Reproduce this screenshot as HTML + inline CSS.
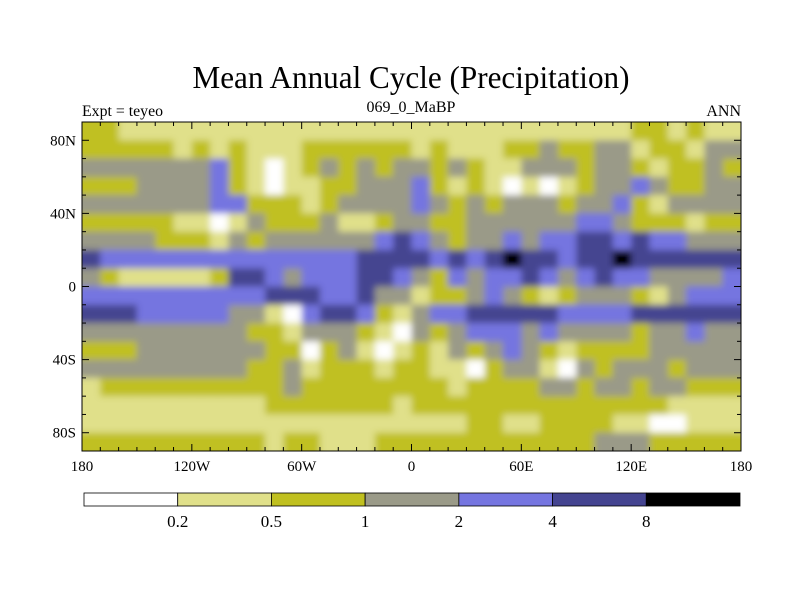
<!DOCTYPE html>
<html><head><meta charset="utf-8"><style>
html,body{margin:0;padding:0;background:#fff;width:800px;height:600px;overflow:hidden}
text{font-family:"Liberation Serif",serif;fill:#000}
</style></head><body>
<svg id="chart" width="800" height="600" viewBox="0 0 800 600" xmlns="http://www.w3.org/2000/svg">
<defs>
<clipPath id="plotclip"><rect x="82" y="122" width="659" height="329"/></clipPath>
<filter id="soft" x="-5%" y="-5%" width="110%" height="110%"><feGaussianBlur stdDeviation="3.5"/></filter>
</defs>
<text x="411" y="88" font-size="32" text-anchor="middle" textLength="437" lengthAdjust="spacingAndGlyphs">Mean Annual Cycle (Precipitation)</text>
<text x="82" y="116" font-size="16" textLength="81" lengthAdjust="spacingAndGlyphs">Expt = teyeo</text>
<text x="411" y="112" font-size="16" text-anchor="middle">069_0_MaBP</text>
<text x="741" y="116" font-size="16" text-anchor="end">ANN</text>
<g id="cells" clip-path="url(#plotclip)"><g id="cellsInner" filter="url(#soft)"></g></g>
<rect x="82" y="122" width="659" height="329" fill="none" stroke="#000" stroke-width="1"/>
<g id="ticks"></g>
<g id="colorbar"></g>
</svg>
<script>
// ---- data ----
const classColors = ["#ffffff","#e0e08a","#c0c020","#9a9a88","#7575e0","#444490","#000000"];
const levelLabels = ["0.2","0.5","1","2","4","8"];
const latTickValues = [80,40,0,-40,-80];
const latTickLabels = ["80N","40N","0","40S","80S"];
const lonTickValues = [-180,-120,-60,0,60,120,180];
const lonTickLabels = ["180","120W","60W","0","60E","120E","180"];
const westRows = [
"221111111111111111","222221212111222222","333333342101232323","222333342101122333",
"333333344222123333","222221101322231123","333322213233333345","544444444444444555",
"321111125543444554","444444444455544533","555444443310455421","333333333221333210",
"222333333322023101","333333333223122212","122222222223222222","111111111122222221",
"111111111111111111","222222222212211122"];
const eastRows = [
"111111111111221211","121112232233122133","323211333233212232","421210101233432233",
"432323332334213333","322333333443222122","432334344554544333","545456554556555555",
"324344543454433334","122343212333213444","344555554444555555","323444343333233433",
"213234321222233333","211023310323332333","221222233233233222","222222222222221111",
"111221122221100111","222222222233322222"];
// ---- axes ----
const X0=82,X1=741,Y0=122,Y1=451;
const xOf = lon => X0 + (lon+180)/360*(X1-X0);
const yOf = lat => Y0 + (90-lat)/180*(Y1-Y0);
const NS="http://www.w3.org/2000/svg";
const inner=document.getElementById('cellsInner');
for(let r=0;r<18;r++){
  const row=westRows[r]+eastRows[r];
  const latTop=90-r*10;
  for(let c=0;c<36;c++){
    const lon=-180+c*10;
    let x=xOf(lon), y=yOf(latTop), w=xOf(lon+10)-x, h=yOf(latTop-10)-y;
    // extend edge cells so blur doesn't fade at frame
    if(c===0){x-=10;w+=10;} if(c===35){w+=10;} if(r===0){y-=10;h+=10;} if(r===17){h+=10;}
    const rc=document.createElementNS(NS,'rect');
    
    
    rc.setAttribute('x',x);rc.setAttribute('y',y);
    rc.setAttribute('width',w+0.6);rc.setAttribute('height',h+0.6);
    rc.setAttribute('fill',classColors[+row[c]]);
    inner.appendChild(rc);
  }
}
const tk=document.getElementById('ticks');
function line(x1,y1,x2,y2,name){
  const l=document.createElementNS(NS,'line');
  
  
  l.setAttribute('x1',x1);l.setAttribute('y1',y1);l.setAttribute('x2',x2);l.setAttribute('y2',y2);
  l.setAttribute('stroke','#000');l.setAttribute('stroke-width','1');
  tk.appendChild(l);
}
function label(x,y,txt,anchor,name){
  const t=document.createElementNS(NS,'text');
  
  
  t.setAttribute('x',x);t.setAttribute('y',y);t.setAttribute('font-size','15');
  t.setAttribute('text-anchor',anchor);t.textContent=txt;
  tk.appendChild(t);
}
for(let lon=-170;lon<180;lon+=10){
  const major=lon%60===0, L=major?7:4;
  line(xOf(lon),Y1,xOf(lon),Y1-L,'x-tick');
  line(xOf(lon),Y0,xOf(lon),Y0+L,'x-tick');
}
for(let lat=-80;lat<=80;lat+=10){
  const major=lat%40===0, L=major?7:4;
  line(X0,yOf(lat),X0+L,yOf(lat),'y-tick');
  line(X1,yOf(lat),X1-L,yOf(lat),'y-tick');
}
lonTickValues.forEach((v,i)=>label(xOf(v),471,lonTickLabels[i],'middle','x-tick-label'));
latTickValues.forEach((v,i)=>label(X0-6,yOf(v)+5,latTickLabels[i],'end','y-tick-label'));
// ---- colorbar ----
const cb=document.getElementById('colorbar');
const CB0=84,CB1=740,CBY=493,CBH=13,n=classColors.length,bw=(CB1-CB0)/n;
classColors.forEach((col,i)=>{
  const r=document.createElementNS(NS,'rect');
  
  
  r.setAttribute('x',CB0+i*bw);r.setAttribute('y',CBY);r.setAttribute('width',bw);r.setAttribute('height',CBH);
  r.setAttribute('fill',col);r.setAttribute('stroke','#000');r.setAttribute('stroke-width','0.8');
  cb.appendChild(r);
});
levelLabels.forEach((s,i)=>{
  const t=document.createElementNS(NS,'text');
  
  
  t.setAttribute('x',CB0+(i+1)*bw);t.setAttribute('y',527);t.setAttribute('font-size','17');
  t.setAttribute('text-anchor','middle');t.textContent=s;
  cb.appendChild(t);
});
</script>
</body></html>
